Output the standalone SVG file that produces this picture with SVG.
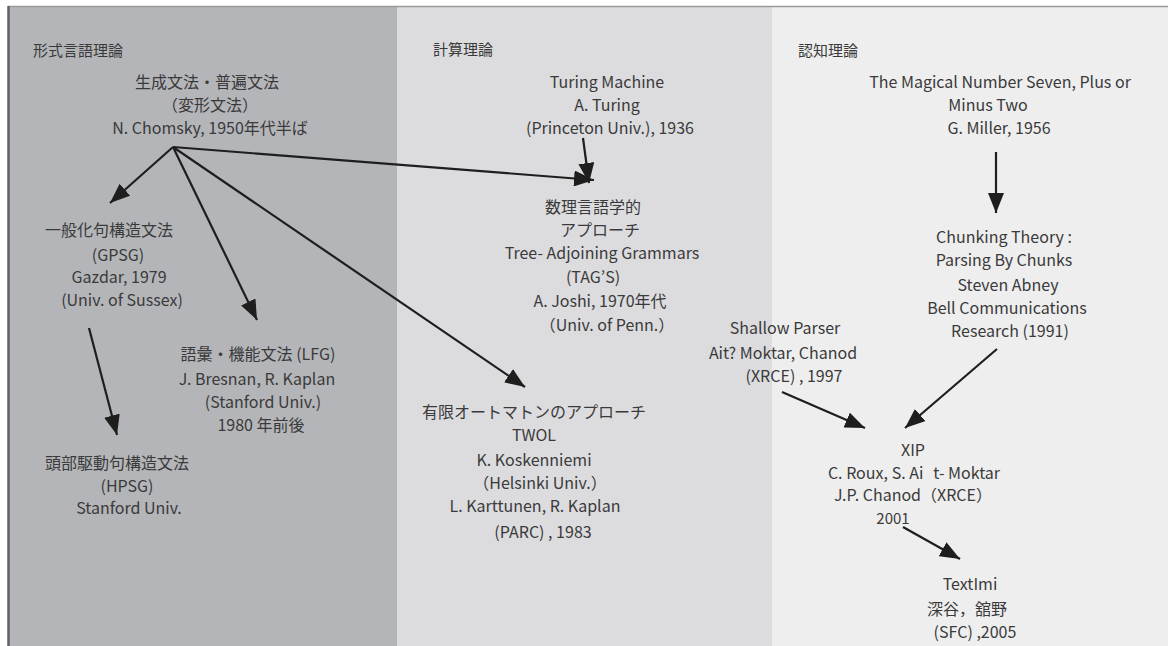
<svg xmlns="http://www.w3.org/2000/svg" width="1174" height="646" viewBox="0 0 1174 646">
<style>
text{font-family:"Noto Sans CJK JP","Noto Sans",sans-serif;font-size:16px;fill:#3a3a3a;text-anchor:middle}
.hdr{font-size:15px;text-anchor:start}
.conn line{stroke:#1e1e1e;stroke-width:2.2;marker-end:url(#ah)}
</style>
<defs>
<marker id="ah" markerUnits="userSpaceOnUse" markerWidth="21" markerHeight="16" refX="20" refY="8" orient="auto">
<path d="M0,0 L20,8 L0,16 z" fill="#1e1e1e"/>
</marker>
</defs>
<rect x="0" y="0" width="1174" height="646" fill="#ffffff"/>
<g id="panels">
<rect x="8" y="6" width="389" height="640" fill="#b4b5b9"/>
<rect x="397" y="6" width="375" height="640" fill="#dcdcdf"/>
<rect x="772" y="6" width="396" height="640" fill="#eeeeef"/>
<line x1="8" y1="6.5" x2="1168" y2="6.5" stroke="#9a9a9c" stroke-width="1.5"/>
<line x1="8.5" y1="6" x2="8.5" y2="646" stroke="#626264" stroke-width="2.5"/>
</g>
<g id="headers">
<text class="hdr" x="33" y="56">形式言語理論</text>
<text class="hdr" x="433" y="55">計算理論</text>
<text class="hdr" x="798" y="56">認知理論</text>
</g>
<g id="chomsky">
<text x="207" y="88">生成文法・普遍文法</text>
<text x="210" y="111">（変形文法）</text>
<text x="210" y="134">N. Chomsky, 1950年代半ば</text>
</g>
<g id="gpsg">
<text x="109" y="236">一般化句構造文法</text>
<text x="118" y="261">(GPSG)</text>
<text x="119" y="283">Gazdar, 1979</text>
<text x="122" y="306">(Univ. of Sussex)</text>
</g>
<g id="lfg">
<text x="258" y="360">語彙・機能文法 (LFG)</text>
<text x="257" y="385">J. Bresnan, R. Kaplan</text>
<text x="263" y="408">(Stanford Univ.)</text>
<text x="261" y="431">1980 年前後</text>
</g>
<g id="hpsg">
<text x="117" y="469">頭部駆動句構造文法</text>
<text x="127" y="492">(HPSG)</text>
<text x="129" y="514">Stanford Univ.</text>
</g>
<g id="turing">
<text x="607" y="88">Turing Machine</text>
<text x="607" y="111">A. Turing</text>
<text x="610" y="134">(Princeton Univ.), 1936</text>
</g>
<g id="tag">
<text x="593" y="213">数理言語学的</text>
<text x="600" y="236">アプローチ</text>
<text x="602" y="259">Tree- Adjoining Grammars</text>
<text x="593" y="283">(TAG’S)</text>
<text x="600" y="307">A. Joshi, 1970年代</text>
<text x="607" y="331">（Univ. of Penn.）</text>
</g>
<g id="twol">
<text x="534" y="418">有限オートマトンのアプローチ</text>
<text x="534" y="441">TWOL</text>
<text x="534" y="466">K. Koskenniemi</text>
<text x="540" y="489">（Helsinki Univ.）</text>
<text x="535" y="512">L. Karttunen,  R. Kaplan</text>
<text x="543" y="538">(PARC) , 1983</text>
</g>
<g id="miller">
<text x="1000" y="88">The Magical Number Seven, Plus or</text>
<text x="988" y="111">Minus Two</text>
<text x="999" y="134">G. Miller, 1956</text>
</g>
<g id="chunking">
<text x="1004" y="243">Chunking Theory :</text>
<text x="1004" y="266">Parsing By Chunks</text>
<text x="1008" y="291">Steven Abney</text>
<text x="1007" y="314">Bell Communications</text>
<text x="1010" y="337">Research (1991)</text>
</g>
<g id="shallow">
<text x="785" y="334">Shallow Parser</text>
<text x="783" y="359">Ait? Moktar, Chanod</text>
<text x="794" y="382">(XRCE) , 1997</text>
</g>
<g id="xip">
<text x="913" y="456">XIP</text>
<text x="914" y="479">C. Roux, S. Ai<tspan dx="10">t- Moktar</tspan></text>
<text x="913" y="501">J.P. Chanod（XRCE）</text>
<text x="893" y="524" style="font-size:15px">2001</text>
</g>
<g id="textimi">
<text x="970" y="590">TextImi</text>
<text x="967" y="615">深谷，舘野</text>
<text x="975" y="638">(SFC) ,2005</text>
</g>
<g id="connectors" class="conn">
<line x1="173" y1="147" x2="110" y2="203"/>
<line x1="173" y1="147" x2="257" y2="320"/>
<line x1="173" y1="147" x2="525" y2="387"/>
<line x1="173" y1="147" x2="594" y2="180"/>
<line x1="583" y1="138" x2="589" y2="183"/>
<line x1="89" y1="328" x2="117" y2="435"/>
<line x1="996" y1="152" x2="996" y2="213"/>
<line x1="782" y1="392" x2="865" y2="428"/>
<line x1="997" y1="349" x2="905" y2="428"/>
<line x1="903" y1="527" x2="960" y2="559"/>
</g>
</svg>
